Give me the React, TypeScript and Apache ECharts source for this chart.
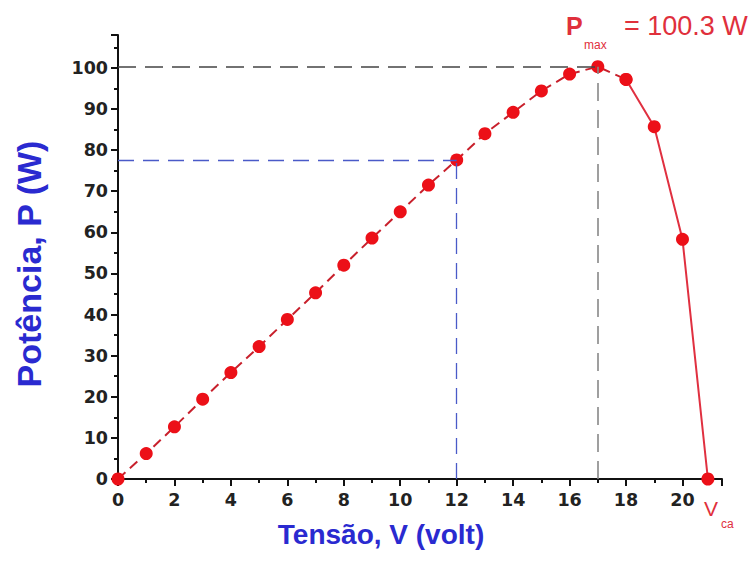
import React, { useEffect, useRef } from "react";
import * as echarts from "echarts";

const voltage = [0, 1, 2, 3, 4, 5, 6, 7, 8, 9, 10, 11, 12, 13, 14, 15, 16, 17, 18, 19, 20, 20.9];
const power = [0, 6.2, 12.7, 19.4, 25.9, 32.2, 38.8, 45.3, 52.0, 58.6, 65.0, 71.5, 77.6, 84.0, 89.2, 94.4, 98.5, 100.3, 97.2, 85.7, 58.3, 0];
const dashedEndIndex = 18; // dashed segment up to this point, solid afterwards
const pMax = { v: 17, p: 100.3 };
const opPoint = { v: 12, p: 77.6 };

export default function App() {
  const ref = useRef<HTMLDivElement>(null);
  useEffect(() => {
    if (!ref.current) return;
    const chart = echarts.init(ref.current, null, { renderer: "svg" });
    const pts = voltage.map((v, i) => [v, power[i]]);
    const red = "#ec1018";
    const lineRed = "#c8202c";
    const tickFont = { fontFamily: "DejaVu Sans", fontWeight: "bold" as const, fontSize: 17.5, color: "#222" };
    const txt = (x: number, y: number, text: string, font: string, fill: string, align = "left", rotation = 0) => ({
      type: "text",
      x,
      y,
      rotation,
      style: { text, font, fill, align, verticalAlign: "middle", textAlign: align, textVerticalAlign: "middle" },
    });
    chart.setOption({
      animation: false,
      grid: { left: 118, right: 30, top: 35, bottom: 82, containLabel: false },
      xAxis: {
        type: "value",
        min: 0,
        max: 21.4,
        interval: 2,
        splitLine: { show: false },
        axisLine: { show: true, onZero: false, lineStyle: { color: "#111", width: 2 } },
        axisTick: { show: true, inside: false, length: 7, lineStyle: { color: "#111", width: 2 } },
        minorTick: { show: true, splitNumber: 2, length: 4, lineStyle: { color: "#111", width: 2 } },
        axisLabel: {
          ...tickFont,
          margin: 12,
          formatter: (v: number) => (Number.isInteger(v) && v % 2 === 0 ? String(v) : ""),
        },
      },
      yAxis: {
        type: "value",
        min: 0,
        max: 108,
        interval: 10,
        splitLine: { show: false },
        axisLine: { show: true, onZero: false, lineStyle: { color: "#111", width: 2 } },
        axisTick: { show: true, inside: false, length: 7, lineStyle: { color: "#111", width: 2 } },
        minorTick: { show: true, splitNumber: 2, length: 4, lineStyle: { color: "#111", width: 2 } },
        axisLabel: {
          ...tickFont,
          margin: 10,
          formatter: (v: number) => (Number.isInteger(v) && v % 10 === 0 && v <= 100 ? String(v) : ""),
        },
      },
      series: [
        {
          type: "line",
          data: [],
          silent: true,
          markLine: {
            silent: true,
            symbol: "none",
            label: { show: false },
            data: [
              [
                { coord: [0, pMax.p], lineStyle: { color: "#444", width: 1.6, type: [18, 9] } },
                { coord: [pMax.v, pMax.p] },
              ],
              [
                { coord: [pMax.v, 0], lineStyle: { color: "#888", width: 1.6, type: [18, 9] } },
                { coord: [pMax.v, pMax.p] },
              ],
              [
                { coord: [0, opPoint.p], lineStyle: { color: "#4a5ac8", width: 1.3, type: [16, 9] } },
                { coord: [opPoint.v, opPoint.p] },
              ],
              [
                { coord: [opPoint.v, 0], lineStyle: { color: "#4a5ac8", width: 1.3, type: [16, 9] } },
                { coord: [opPoint.v, opPoint.p] },
              ],
            ],
          },
        },
        {
          type: "line",
          data: pts.slice(dashedEndIndex),
          symbol: "circle",
          symbolSize: 13,
          itemStyle: { color: red },
          lineStyle: { color: "#e03040", width: 2, type: "solid" },
          z: 3,
        },
        {
          type: "line",
          data: pts.slice(0, dashedEndIndex + 1),
          symbol: "circle",
          symbolSize: 13,
          itemStyle: { color: red },
          lineStyle: { color: lineRed, width: 2, type: [10, 6] },
          z: 4,
        },
      ],
      graphic: [
        txt(29, 264, "Potência, P (W)", "bold 34px 'Liberation Sans', Arial, sans-serif", "#2a2ad0", "center", Math.PI / 2),
        txt(381, 534, "Tensão, V (volt)", "bold 28px 'Liberation Sans', Arial, sans-serif", "#2a2ad0", "center"),
        txt(566, 26, "P", "bold 25px 'Liberation Sans', Arial, sans-serif", "#e0303c"),
        txt(584, 45, "max", "12px 'Liberation Sans', Arial, sans-serif", "#e0303c"),
        txt(624, 26, "= 100.3 W", "27px 'Liberation Sans', Arial, sans-serif", "#e0303c"),
        txt(704, 508, "V", "21px 'Liberation Sans', Arial, sans-serif", "#e0303c"),
        txt(721, 524, "ca", "12px 'Liberation Sans', Arial, sans-serif", "#e0303c"),
      ],
    });
    return () => chart.dispose();
  }, []);
  return <div ref={ref} style={{ width: 752, height: 561, position: "absolute", left: 0, top: 0 }} />;
}
